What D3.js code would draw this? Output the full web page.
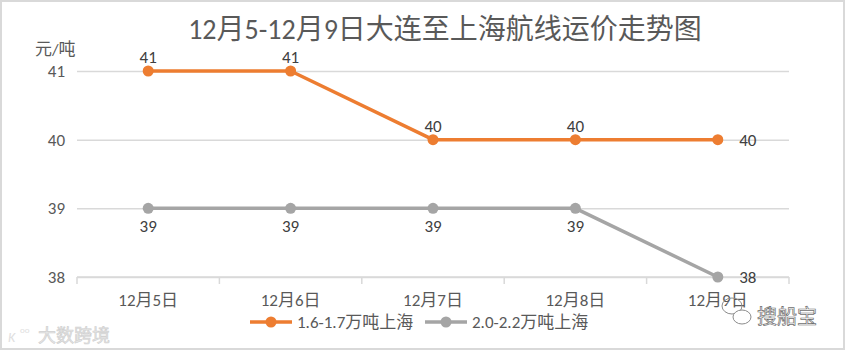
<!DOCTYPE html>
<html>
  <head>
    <style>
      body,
      html {
        margin: 0;
        padding: 0;
        background: #fff;
      }
      text {
        font-family: Calibri, Carlito, 'Noto Sans CJK SC', 'Noto Sans', sans-serif;
      }
    </style>
  </head>
  <body>
    <svg id="svg" width="846" height="352"></svg>

    <script src="https://cdn.jsdelivr.net/npm/d3@7"></script>
    <script>
      const categories = ['12月5日', '12月6日', '12月7日', '12月8日', '12月9日'];
      const seriesNames = ['1.6-1.7万吨上海', '2.0-2.2万吨上海'];
      const seriesA = [41, 41, 40, 40, 40];
      const seriesB = [39, 39, 39, 39, 38];
      const yTicks = [38, 39, 40, 41];
      const colors = ['#ED7D31', '#A5A5A5'];

      const W = 846, H = 352;
      const plotLeft = 77, plotRight = 789, plotTop = 71, plotBottom = 277;

      const svg = d3.select('#svg');

      // outer frame
      svg.append('rect')
        .attr('x', 1).attr('y', 1)
        .attr('width', W - 3).attr('height', H - 4)
        .attr('fill', 'none')
        .attr('stroke', '#d9d9d9')
        .attr('stroke-width', 2);

      const xScale = d3.scaleBand().domain(categories).range([plotLeft, plotRight]);
      const yScale = d3.scaleLinear().domain([38, 41]).range([plotBottom, plotTop]);
      const xc = (d) => xScale(d) + xScale.bandwidth() / 2;

      // gridlines
      svg.append('g')
        .attr('transform', `translate(${plotLeft},0)`)
        .call(d3.axisLeft(yScale).tickValues(yTicks).tickSize(-(plotRight - plotLeft)).tickFormat(''))
        .call((g) => g.select('.domain').remove())
        .call((g) => g.selectAll('line').attr('stroke', '#d9d9d9').attr('stroke-width', 1.5));

      // y labels
      svg.append('g')
        .selectAll('text')
        .data(yTicks)
        .join('text')
        .attr('x', 65)
        .attr('y', (d) => yScale(d) + 6)
        .attr('text-anchor', 'end')
        .attr('font-size', 17)
        .attr('fill', '#595959')
        .text((d) => d);

      // x axis
      const xAxis = svg.append('g').attr('transform', `translate(0,${plotBottom})`);
      xAxis.append('line')
        .attr('x1', plotLeft).attr('x2', plotRight)
        .attr('stroke', '#d9d9d9').attr('stroke-width', 1.5);
      const bounds = categories.map((c) => xScale(c)).concat([plotRight]);
      xAxis.selectAll('.tk')
        .data(bounds)
        .join('line')
        .attr('class', 'tk')
        .attr('x1', (d) => d).attr('x2', (d) => d)
        .attr('y1', 0).attr('y2', 7)
        .attr('stroke', '#d9d9d9').attr('stroke-width', 1.5);
      xAxis.selectAll('text')
        .data(categories)
        .join('text')
        .attr('x', (d) => xc(d))
        .attr('y', 29)
        .attr('text-anchor', 'middle')
        .attr('font-size', 17)
        .attr('fill', '#595959')
        .text((d) => d);

      // title
      svg.append('text')
        .attr('x', 445).attr('y', 39)
        .attr('text-anchor', 'middle')
        .attr('font-size', 28)
        .attr('fill', '#595959')
        .text('12月5-12月9日大连至上海航线运价走势图');

      svg.append('text')
        .attr('x', 35).attr('y', 55)
        .attr('font-size', 17)
        .attr('fill', '#595959')
        .text('元/吨');

      const line = d3.line()
        .x((d, i) => xc(categories[i]))
        .y((d) => yScale(d));

      const series = [seriesA, seriesB];
      series.forEach((vals, s) => {
        svg.append('path')
          .datum(vals)
          .attr('d', line)
          .attr('fill', 'none')
          .attr('stroke', colors[s])
          .attr('stroke-width', 3.5)
          .attr('stroke-linejoin', 'round');
        svg.append('g')
          .selectAll('circle')
          .data(vals)
          .join('circle')
          .attr('cx', (d, i) => xc(categories[i]))
          .attr('cy', (d) => yScale(d))
          .attr('r', 5.5)
          .attr('fill', colors[s]);
        svg.append('g')
          .selectAll('text')
          .data(vals)
          .join('text')
          .attr('x', (d, i) => (i === vals.length - 1 ? xc(categories[i]) + 30 : xc(categories[i])))
          .attr('y', (d, i) => {
            if (i === vals.length - 1) return yScale(d) + 6;
            return s === 0 ? yScale(d) - 8 : yScale(d) + 24;
          })
          .attr('text-anchor', 'middle')
          .attr('font-size', 17)
          .attr('fill', '#404040')
          .text((d) => d);
      });

      // legend
      const legendX = [250, 425];
      const legend = svg.append('g').attr('transform', 'translate(0,322)');
      seriesNames.forEach((name, s) => {
        const g = legend.append('g').attr('transform', `translate(${legendX[s]},0)`);
        g.append('line')
          .attr('x1', 0).attr('x2', 42)
          .attr('stroke', colors[s]).attr('stroke-width', 3.5);
        g.append('circle').attr('cx', 21).attr('r', 5.5).attr('fill', colors[s]);
        g.append('text')
          .attr('x', 47).attr('y', 6)
          .attr('font-size', 17)
          .attr('fill', '#595959')
          .text(name);
      });

      // watermarks
      svg.append('text')
        .attr('x', 8).attr('y', 342)
        .attr('font-size', 14)
        .attr('fill', '#e0e0e0')
        .attr('font-style', 'italic')
        .text('K');
      svg.append('text')
        .attr('x', 20).attr('y', 333)
        .attr('font-size', 9)
        .attr('fill', '#e0e0e0')
        .text('oo');
      svg.append('text')
        .attr('x', 38).attr('y', 342)
        .attr('font-size', 18)
        .attr('fill', '#e6e6e6')
        .attr('stroke', '#cfcfcf')
        .attr('stroke-width', 0.6)
        .text('大数跨境');

      const wx = svg.append('g').attr('fill', 'none').attr('stroke', '#8c8c8c').attr('stroke-width', 1);
      wx.append('ellipse').attr('cx', 732).attr('cy', 306).attr('rx', 10).attr('ry', 8);
      wx.append('ellipse').attr('cx', 742).attr('cy', 317).attr('rx', 9).attr('ry', 7).attr('fill', '#fff');
      svg.append('text')
        .attr('x', 757).attr('y', 324)
        .attr('font-size', 20)
        .attr('fill', '#fff')
        .attr('stroke', '#6e6e6e')
        .attr('stroke-width', 0.7)
        .text('搜船宝');
    </script>
  </body>
</html>
